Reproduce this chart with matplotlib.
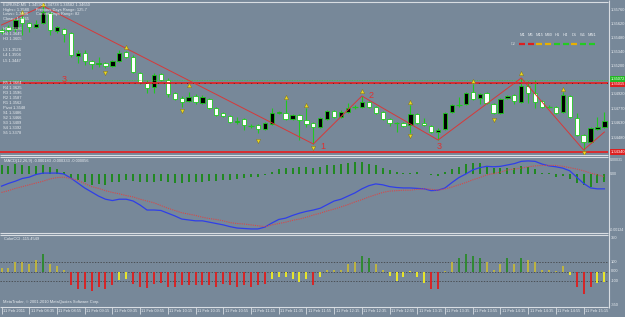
"""Recria o grafico EURUSD M5 do MetaTrader com MACD e ColorCCI."""

import matplotlib

matplotlib.use("Agg")
import matplotlib.pyplot as plt
from matplotlib import font_manager
from matplotlib.patches import Rectangle

# Velas M5 (11 Feb 2011), uma por barra.
abertura = [
    1.3556, 1.3559, 1.3557, 1.3568, 1.3563, 1.3559, 1.3563, 1.3573, 1.3555, 1.3557,
    1.3553, 1.3530, 1.3533, 1.3525, 1.3522, 1.3523, 1.3520, 1.3525, 1.3534, 1.3529,
    1.3513, 1.3503, 1.3499, 1.3512, 1.3506, 1.3493, 1.3488, 1.3485, 1.3490, 1.3483,
    1.3487, 1.3478, 1.3473, 1.3470, 1.3464, 1.3467, 1.3460, 1.3461, 1.3457, 1.3462,
    1.3473, 1.3473, 1.3467, 1.3471, 1.3466, 1.3463, 1.3459, 1.3467, 1.3475, 1.3469,
    1.3474, 1.3479, 1.3479, 1.3484, 1.3479, 1.3474, 1.3467, 1.3463, 1.3463, 1.3461,
    1.3472, 1.3463, 1.3460, 1.3454, 1.3457, 1.3474, 1.3481, 1.3482, 1.3494, 1.3488,
    1.3493, 1.3482, 1.3473, 1.3488, 1.3491, 1.3484, 1.3500, 1.3493, 1.3485, 1.3479,
    1.3479, 1.3474, 1.3490, 1.3468, 1.3451, 1.3444, 1.3457, 1.3459,
]
maxima = [
    1.3558, 1.3561, 1.3568, 1.3571, 1.3564, 1.3566, 1.3580, 1.3574, 1.3560, 1.3558,
    1.3554, 1.3536, 1.3536, 1.3526, 1.3529, 1.3524, 1.3526, 1.3536, 1.3535, 1.3531,
    1.3514, 1.3506, 1.3513, 1.3513, 1.3508, 1.3494, 1.3490, 1.3494, 1.3492, 1.3491,
    1.3488, 1.3479, 1.3474, 1.3471, 1.3469, 1.3468, 1.3462, 1.3462, 1.3464, 1.3478,
    1.3475, 1.3486, 1.3472, 1.3472, 1.3478, 1.3464, 1.3469, 1.3476, 1.3476, 1.3476,
    1.3483, 1.3481, 1.3490, 1.3485, 1.3480, 1.3475, 1.3468, 1.3464, 1.3464, 1.3481,
    1.3473, 1.3468, 1.3461, 1.3458, 1.3474, 1.3482, 1.3489, 1.3494, 1.3502, 1.3493,
    1.3494, 1.3483, 1.3488, 1.3491, 1.3492, 1.3508, 1.3505, 1.3506, 1.3486, 1.3481,
    1.3480, 1.3494, 1.3491, 1.3473, 1.3452, 1.3459, 1.3469, 1.3474,
]
minima = [
    1.3552, 1.3554, 1.3554, 1.3551, 1.3554, 1.3558, 1.3562, 1.3551, 1.3553, 1.3544,
    1.3529, 1.3523, 1.3521, 1.3517, 1.3519, 1.3518, 1.3519, 1.3524, 1.3528, 1.3513,
    1.3502, 1.3493, 1.3493, 1.3505, 1.3489, 1.3486, 1.3479, 1.3484, 1.3482, 1.3482,
    1.3477, 1.3470, 1.3469, 1.3463, 1.3462, 1.3456, 1.3458, 1.3453, 1.3456, 1.3461,
    1.3472, 1.3466, 1.3466, 1.3446, 1.3459, 1.3442, 1.3458, 1.3466, 1.3468, 1.3468,
    1.3473, 1.3477, 1.3478, 1.3478, 1.3472, 1.3466, 1.3460, 1.3454, 1.3459, 1.3453,
    1.3462, 1.3460, 1.3453, 1.3446, 1.3456, 1.3473, 1.3479, 1.3481, 1.3486, 1.3482,
    1.3482, 1.3472, 1.3472, 1.3487, 1.3482, 1.3483, 1.3483, 1.3478, 1.3478, 1.3478,
    1.3472, 1.3473, 1.3468, 1.3450, 1.3436, 1.3443, 1.3456, 1.3458,
]
fechamento = [
    1.3554, 1.3556, 1.3566, 1.3563, 1.3559, 1.3562, 1.3574, 1.3556, 1.3559, 1.3552,
    1.3531, 1.3533, 1.3525, 1.3522, 1.3523, 1.3520, 1.3525, 1.3533, 1.3529, 1.3514,
    1.3503, 1.3498, 1.3511, 1.3506, 1.3492, 1.3487, 1.3484, 1.3489, 1.3484, 1.3489,
    1.3478, 1.3471, 1.3470, 1.3464, 1.3465, 1.3461, 1.3460, 1.3457, 1.3463, 1.3473,
    1.3474, 1.3467, 1.3471, 1.3466, 1.3462, 1.3459, 1.3468, 1.3475, 1.3469, 1.3474,
    1.3478, 1.3479, 1.3484, 1.3479, 1.3473, 1.3467, 1.3463, 1.3463, 1.3460, 1.3472,
    1.3463, 1.3461, 1.3454, 1.3456, 1.3473, 1.3481, 1.3481, 1.3493, 1.3487, 1.3492,
    1.3483, 1.3473, 1.3487, 1.3490, 1.3485, 1.3500, 1.3493, 1.3484, 1.3479, 1.3479,
    1.3473, 1.3491, 1.3469, 1.3451, 1.3444, 1.3458, 1.3459, 1.3465,
]

# ZigZag e fractais.
zigzag_barra = [0, 6, 45, 52, 63, 75, 84, 87]
zigzag_preco = [1.3561, 1.3580, 1.3442, 1.3490, 1.3446, 1.3508, 1.3436, 1.3454]
zigzag_rotulo = [(46.3, 1.3439, "1"), (53.3, 1.3491, "2"), (63.1, 1.3439, "3"), (9.0, 1.3507, "3")]
fractal_cima_barra = [3, 6, 18, 27, 41, 44, 52, 59, 68, 75, 81]
fractal_cima_preco = [1.3574, 1.3582, 1.3539, 1.3501, 1.3489, 1.3481, 1.3495, 1.3484, 1.3505, 1.3513, 1.3497]
fractal_baixo_barra = [15, 26, 37, 45, 59, 71, 84]
fractal_baixo_preco = [1.3513, 1.3475, 1.3445, 1.3438, 1.3450, 1.3466, 1.3433]

# Linhas horizontais.
linha_vermelha_alta = 1.35027
linha_verde = 1.35060
linha_vermelha_baixa = 1.34340

# Eixo de precos (rotulos do MT4).
precos_eixo = [1.35760, 1.35620, 1.35480, 1.35340, 1.35200, 1.34920, 1.34770, 1.34630, 1.34480]

# MACD em unidades de 0.00001.
macd_hist = [
    20, 18, 22, 20, 18, 18, 20, 16, 11, 4,
    -9, -13, -18, -24, -22, -24, -18, -18, -13, -16,
    -18, -18, -18, -16, -18, -20, -20, -18, -18, -18,
    -16, -16, -13, -13, -11, -9, -7, -7, -2, 4,
    11, 13, 13, 16, 16, 13, 16, 20, 20, 22,
    24, 27, 27, 22, 20, 13, 9, 4, 2, 2,
    4, 0, -2, -4, 4, 11, 16, 22, 24, 24,
    16, 13, 13, 13, 13, 18, 16, 11, 2, 2,
    -7, -4, -11, -20, -24, -29, -20, -18,
]
macd_linha = [
    -27, -21, -16, -10, -7, -1, 2, 2, 2, 0,
    -9, -20, -31, -40, -49, -56, -59, -56, -56, -60,
    -69, -80, -80, -81, -87, -93, -100, -102, -104, -104,
    -107, -110, -113, -117, -120, -121, -122, -122, -118, -109,
    -101, -98, -92, -87, -83, -80, -76, -68, -60, -56,
    -49, -42, -33, -26, -22, -24, -28, -30, -31, -31,
    -32, -33, -37, -36, -31, -19, -8, 0, 9, 14,
    17, 16, 17, 20, 23, 28, 29, 28, 22, 18,
    16, 13, 7, -7, -21, -31, -33, -33,
]
macd_sinal = [
    -41, -37, -32, -28, -24, -20, -16, -11, -8, -7,
    -10, -14, -21, -28, -32, -37, -41, -44, -48, -51,
    -56, -60, -64, -70, -76, -81, -86, -89, -92, -96,
    -99, -101, -104, -108, -110, -111, -113, -115, -117, -113,
    -110, -107, -103, -100, -96, -91, -87, -82, -78, -73,
    -68, -62, -57, -51, -46, -41, -38, -37, -36, -36,
    -34, -33, -34, -36, -33, -29, -24, -19, -13, -8,
    -2, 1, 4, 9, 11, 13, 16, 18, 19, 19,
    19, 17, 14, 11, 7, 2, -2, -6,
]

# ColorCCI: valor e cor de cada barra (g=verde, o=amarelo escuro, y=amarelo, r=vermelho).
cci = [
    42, 32, 95, 105, 84, 116, 189, 84, 53, 11,
    -137, -179, -179, -200, -158, -179, -137, -84, -74, -126,
    -158, -168, -126, -116, -158, -158, -137, -137, -137, -137,
    -137, -158, -126, -137, -158, -137, -158, -137, -126, -74,
    -53, -53, -74, -105, -74, -137, -53, 11, 21, 11,
    84, 105, 158, 147, 74, 11, -42, -95, -53, 3,
    -53, -116, -179, -179, 5, 95, 147, 189, 168, 137,
    95, 21, 74, 137, 74, 147, 116, 95, 21, 11,
    4, 53, -32, -158, -231, -158, -116, -115,
]
cci_cor = list(
    "oooooo" "g" "ooo" "rrrrrrr" "yy" "rrrrrrrrrrrrrrrrrrrr" "yyyyyy" "r" "y"
    "ooooo" "gg" "oo" "yyyyyy" "rr" "oo" "gggg" "ooo" "g" "o" "g" "oooooo"
    "y" "rrr" "yy"
)

rotulos_tempo = [
    "11 Feb 2011", "11 Feb 08:35", "11 Feb 08:55", "11 Feb 09:15", "11 Feb 09:35",
    "11 Feb 09:55", "11 Feb 10:15", "11 Feb 10:35", "11 Feb 10:55", "11 Feb 11:15",
    "11 Feb 11:35", "11 Feb 11:55", "11 Feb 12:15", "11 Feb 12:35", "11 Feb 12:55",
    "11 Feb 13:15", "11 Feb 13:35", "11 Feb 13:55", "11 Feb 14:15", "11 Feb 14:35",
    "11 Feb 14:55", "11 Feb 15:15",
]

periodos = ["M1", "M5", "M15", "M30", "H1", "H4", "D1", "W1", "MN1"]
periodos_cor = ["r", "r", "o", "o", "g", "g", "o", "g", "g"]

info_topo = [
    "EURUSD,M5  1.34592 1.34738 1.34582 1.34650",
    "Highs= 1.3580      Previous Days Range: 125.7",
    "Lows= 1.3436       Current Days Range: 82",
    "Close= 1.3465",
]
info_h = ["H5 1.3686", "H4 1.3645", "H3 1.3605"]
info_l = ["L3 1.3526", "L4 1.3504", "L5 1.3447"]
info_pivot = ["R5 1.3664", "R4 1.3625", "R3 1.3596", "R2 1.3587", "R1 1.3562",
              "Pivot 1.3548", "S1 1.3486", "S2 1.3466", "S3 1.3409", "S4 1.3392", "S5 1.3378"]

FUNDO = "#778899"
VERDE = "#20c820"
TEXTO = "#e8ecf0"
CORES_CCI = {"g": "#2a8a2a", "o": "#c4b83a", "y": "#f4f020", "r": "#e01c1c"}
CORES_TF = {"g": "#22cc22", "o": "#e8b000", "r": "#dd1f1f"}

# Fonte estreita se existir; senao Liberation Sans menor.
try:
    font_manager.findfont("Liberation Sans Narrow", fallback_to_default=False)
    FONTE, TAM = "Liberation Sans Narrow", 3.5
except ValueError:
    FONTE, TAM = "Liberation Sans", 2.9

W, H = 625.0, 317.0
PASSO = 6.93  # pixels por barra
X_BORDA = 608.0


def main() -> None:
    plt.rcParams["font.family"] = [FONTE, "DejaVu Sans"]
    fig = plt.figure(figsize=(W / 100, H / 100), dpi=100)
    fig.patch.set_facecolor(FUNDO)

    x0 = -1.5 / PASSO
    x1 = (X_BORDA - 1.5) / PASSO

    def painel(ytop, ybot):
        ax = fig.add_axes([0, 1 - ybot / H, X_BORDA / W, (ybot - ytop) / H])
        ax.set_xlim(x0, x1)
        ax.axis("off")
        return ax

    barras = list(range(len(abertura)))

    # ---- painel de precos ----
    ax = painel(3, 154.5)
    ax.set_ylim(1.34315, 1.3583)
    for i, o, h, l, c in zip(barras, abertura, maxima, minima, fechamento):
        ax.vlines(i, l, h, color=VERDE, lw=0.8, zorder=2)
        if abs(c - o) < 1e-9:
            ax.hlines(o, i - 0.4, i + 0.4, color=VERDE, lw=0.9, zorder=3)
        else:
            cor = "white" if c < o else "black"
            ax.add_patch(Rectangle((i - 0.31, min(o, c)), 0.62, abs(c - o),
                                   facecolor=cor, edgecolor=VERDE, lw=0.6, zorder=3))
    ax.axhline(linha_verde, color="#3cc83c", lw=0.6, ls=(0, (1, 1)), zorder=4)
    ax.axhline(linha_vermelha_alta, color="#e02626", lw=1.3, zorder=4)
    ax.axhline(linha_vermelha_alta, color="#4a1616", lw=0.6, ls=(0, (1, 6)), zorder=4)
    ax.axhline(linha_vermelha_baixa, color="#e02626", lw=1.3, zorder=4)
    ax.plot(zigzag_barra, zigzag_preco, color="#d83838", lw=0.7, zorder=4)
    for b, p, t in zigzag_rotulo:
        ax.text(b, p, t, color="#e03030", fontsize=6.5, ha="center", va="center", zorder=5)
    ax.scatter(fractal_cima_barra, fractal_cima_preco, marker="^", s=9,
               c="#ecd820", edgecolors="#7a6c10", linewidths=0.3, zorder=5)
    ax.scatter(fractal_baixo_barra, fractal_baixo_preco, marker="v", s=9,
               c="#ecd820", edgecolors="#7a6c10", linewidths=0.3, zorder=5)

    tr = ax.get_yaxis_transform()
    dx = 1 + 3 / X_BORDA
    for p in precos_eixo:
        ax.text(dx, p, f"{p:.5f}", transform=tr, color=TEXTO, fontsize=TAM,
                va="center", ha="left", clip_on=False)
    for p, cor in [(linha_verde + 0.00012, "#22b822"), (linha_vermelha_alta - 0.00012, "#dd2020"),
                   (linha_vermelha_baixa, "#dd2020")]:
        ax.text(dx, p, f"{p:.5f}", transform=tr, color="white", fontsize=TAM,
                va="center", ha="left", clip_on=False,
                bbox=dict(boxstyle="square,pad=0.2", fc=cor, ec="none"))

    # ---- MACD ----
    am = painel(157.5, 232.5)
    am.set_ylim(-129.9, 36.6)
    am.vlines(barras, 0, macd_hist, color="#1f8a1f", lw=1.4)
    am.plot(barras, macd_linha, color="#2f3fe8", lw=0.9)
    am.plot(barras, macd_sinal, color="#d84848", lw=0.8, ls=(0, (1, 1)))
    trm = am.get_yaxis_transform()
    for v, t in [(31, "0.00031"), (0, "0.00"), (-124, "-0.00124")]:
        am.text(1 + 1.5 / X_BORDA, v, t, transform=trm, color=TEXTO, fontsize=TAM * 0.9,
                va="center", ha="left", clip_on=False)

    # ---- ColorCCI ----
    ac = painel(235.5, 306.5)
    ac.set_ylim(-367.5, 378)
    for nivel in (100, 0, -100):
        ac.axhline(nivel, color="#3a3a3a", lw=0.5, ls=(0, (2, 2)))
    ac.vlines(barras, 0, cci, colors=[CORES_CCI[c] for c in cci_cor], lw=1.3)
    trc = ac.get_yaxis_transform()
    for v, t in [(350, "350"), (100, "100"), (0, "0.00"), (-100, "-100"), (-350, "-350")]:
        ac.text(dx, v, t, transform=trc, color=TEXTO, fontsize=TAM, va="center",
                ha="left", clip_on=False)
    for j, rot in enumerate(rotulos_tempo):
        b = 4 * j
        ac.text(b + 0.2, -415, rot, color=TEXTO, fontsize=TAM, ha="left", va="center",
                clip_on=False)
        ac.vlines(b, -372, -450, color=TEXTO, lw=0.5, clip_on=False)

    # ---- camada em pixels: separadores e textos ----
    ap = fig.add_axes([0, 0, 1, 1], zorder=10)
    ap.set_xlim(0, W)
    ap.set_ylim(H, 0)
    ap.axis("off")
    sep = "#d8dde2"
    for y in (1.5, 155.3, 156.8, 233.3, 234.8, 307.3):
        ap.hlines(y, 0, X_BORDA, color=sep, lw=0.8)
    ap.vlines(X_BORDA + 0.5, 0, 308, color=sep, lw=0.8)

    kw = dict(color=TEXTO, fontsize=TAM, ha="left", va="center")
    for i, t in enumerate(info_topo):
        ap.text(3, 4.5 + 5 * i, t, **kw)
    for i, t in enumerate(info_h):
        ap.text(3, 29 + 5 * i, t, **kw)
    for i, t in enumerate(info_l):
        ap.text(3, 50 + 5.5 * i, t, **kw)
    for i, t in enumerate(info_pivot):
        ap.text(3, 83 + 5 * i, t, **kw)
    ap.text(4, 161, "MACD(12,26,9) -0.000183 -0.000333 -0.000056", **kw)
    ap.text(4, 238.5, "ColorCCI -115.4549", **kw)
    ap.text(3, 302, "MetaTrader, \u00a9 2001-2010 MetaQuotes Software Corp.", **kw)

    ap.text(513, 44, "D2", color="#c8ccd0", fontsize=TAM, ha="center", va="center")
    for i, (t, c) in enumerate(zip(periodos, periodos_cor)):
        xc = 522 + 8.7 * i
        ap.text(xc, 35, t, color=TEXTO, fontsize=TAM, ha="center", va="center")
        ap.hlines(44, xc - 3, xc + 3, color=CORES_TF[c], lw=1.6)

    fig.savefig("out.png", dpi=100, facecolor=FUNDO)
    plt.close(fig)


if __name__ == "__main__":
    main()
